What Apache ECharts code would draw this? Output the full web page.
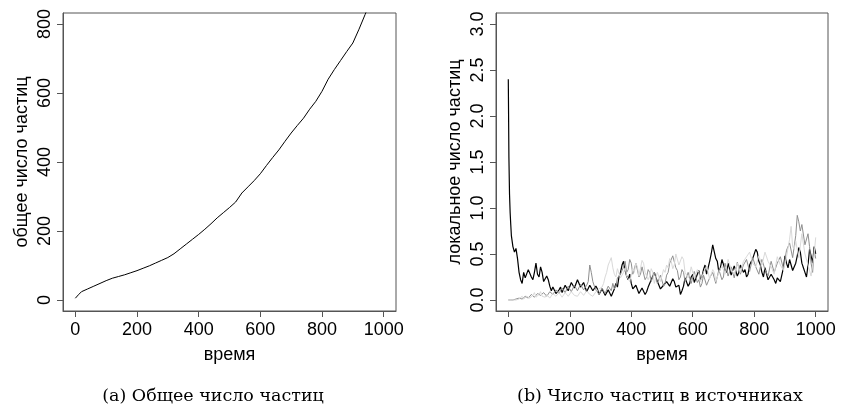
<!DOCTYPE html>
<html>
<head>
<meta charset="utf-8">
<script src="https://cdn.jsdelivr.net/npm/echarts@6/dist/echarts.min.js"></script>
<style>
    html, body { margin: 0; padding: 0; background: #fff; }
    #main { width: 841px; height: 412px; }
</style>
</head>
<body>
<div id="main"></div>
<script>
// --- data ---
const xTicks = [0, 200, 400, 600, 800, 1000];
const totalTicks = [0, 200, 400, 600, 800];
const localTicks = [0, 0.5, 1, 1.5, 2, 2.5, 3];

// (a) total number of particles
const totalTime = [0, 10, 20, 40, 60, 80, 100, 120, 140, 160, 180, 200, 220, 240, 260, 280, 300,
    320, 340, 360, 380, 400, 420, 440, 460, 480, 500, 520, 540, 560, 580, 600, 620, 640, 660,
    680, 700, 720, 740, 760, 780, 800, 820, 840, 860, 880, 900, 920, 940, 960];
const totalCount = [5, 15, 24, 32, 40, 48, 56, 63, 68, 73, 79, 85, 92, 99, 107, 115, 123,
    134, 148, 162, 176, 190, 205, 221, 238, 253, 268, 284, 310, 328, 346, 366, 390, 413, 435,
    460, 484, 506, 527, 553, 576, 605, 640, 668, 694, 720, 745, 785, 828, 872];

// (b) local number of particles in the sources
// first five samples at t = 0,2,4,6,8, then every 5 from t = 10 to 1000
const sourceBlack = [2.40, 1.55, 1.15, 0.95, 0.82,
    0.70, 0.58, 0.52, 0.56, 0.45, 0.30, 0.22, 0.18, 0.30, 0.24,
    0.26, 0.33, 0.32, 0.25, 0.22, 0.30, 0.40, 0.28, 0.25, 0.36,
    0.30, 0.20, 0.18, 0.26, 0.22, 0.15, 0.10, 0.14, 0.12, 0.07,
    0.08, 0.11, 0.14, 0.08, 0.10, 0.16, 0.18, 0.10, 0.12, 0.19,
    0.20, 0.13, 0.15, 0.22, 0.21, 0.14, 0.12, 0.19, 0.17, 0.09,
    0.10, 0.16, 0.14, 0.10, 0.08, 0.15, 0.12, 0.06, 0.07, 0.12,
    0.10, 0.05, 0.05, 0.11, 0.09, 0.04, 0.06, 0.12, 0.18, 0.14,
    0.25, 0.30, 0.38, 0.42, 0.32, 0.26, 0.22, 0.28, 0.18, 0.12,
    0.10, 0.16, 0.14, 0.07, 0.08, 0.13, 0.12, 0.06, 0.09, 0.14,
    0.14, 0.22, 0.20, 0.30, 0.28, 0.20, 0.18, 0.12, 0.10, 0.16,
    0.14, 0.20, 0.22, 0.15, 0.17, 0.23, 0.20, 0.14, 0.12, 0.16,
    0.06, 0.10, 0.15, 0.24, 0.22, 0.15, 0.18, 0.25, 0.28, 0.19,
    0.20, 0.28, 0.32, 0.22, 0.25, 0.33, 0.38, 0.28, 0.30, 0.42,
    0.50, 0.60, 0.58, 0.45, 0.42, 0.30, 0.35, 0.44, 0.45, 0.33,
    0.30, 0.40, 0.38, 0.27, 0.28, 0.37, 0.35, 0.26, 0.30, 0.38,
    0.40, 0.30, 0.33, 0.25, 0.28, 0.38, 0.36, 0.45, 0.44, 0.55,
    0.52, 0.42, 0.38, 0.30, 0.25, 0.35, 0.33, 0.22, 0.20, 0.28,
    0.30, 0.22, 0.18, 0.24, 0.26, 0.20, 0.22, 0.35, 0.48, 0.40,
    0.35, 0.44, 0.42, 0.32, 0.30, 0.40, 0.48, 0.57, 0.52, 0.40,
    0.35, 0.30, 0.25, 0.38, 0.55, 0.48, 0.40, 0.58, 0.50];

const sourceGray = [0, 0, 0, 0, 0,
    0.00, 0.00, 0.00, 0.01, 0.01, 0.02, 0.03, 0.01, 0.02, 0.04,
    0.05, 0.02, 0.03, 0.06, 0.06, 0.03, 0.04, 0.07, 0.08, 0.05,
    0.05, 0.08, 0.07, 0.04, 0.06, 0.09, 0.09, 0.06, 0.07, 0.11,
    0.10, 0.07, 0.08, 0.13, 0.12, 0.08, 0.09, 0.15, 0.14, 0.09,
    0.10, 0.16, 0.15, 0.10, 0.11, 0.17, 0.16, 0.11, 0.12, 0.16,
    0.20, 0.38, 0.30, 0.20, 0.15, 0.11, 0.10, 0.06, 0.08, 0.13,
    0.12, 0.07, 0.09, 0.15, 0.14, 0.10, 0.18, 0.12, 0.15, 0.24,
    0.22, 0.28, 0.30, 0.36, 0.42, 0.30, 0.33, 0.44, 0.40, 0.28,
    0.30, 0.40, 0.38, 0.25, 0.28, 0.36, 0.35, 0.22, 0.25, 0.33,
    0.30, 0.20, 0.22, 0.30, 0.28, 0.18, 0.20, 0.27, 0.26, 0.15,
    0.18, 0.27, 0.30, 0.40, 0.38, 0.48, 0.46, 0.35, 0.32, 0.22,
    0.25, 0.33, 0.30, 0.20, 0.22, 0.30, 0.28, 0.18, 0.20, 0.31,
    0.30, 0.19, 0.22, 0.14, 0.18, 0.27, 0.26, 0.16, 0.14, 0.24,
    0.22, 0.30, 0.28, 0.18, 0.20, 0.33, 0.32, 0.22, 0.25, 0.40,
    0.38, 0.26, 0.28, 0.36, 0.34, 0.24, 0.26, 0.41, 0.40, 0.28,
    0.30, 0.38, 0.36, 0.44, 0.42, 0.31, 0.33, 0.46, 0.45, 0.36,
    0.38, 0.28, 0.30, 0.44, 0.42, 0.33, 0.35, 0.26, 0.28, 0.42,
    0.40, 0.30, 0.32, 0.40, 0.38, 0.47, 0.45, 0.34, 0.36, 0.54,
    0.52, 0.62, 0.60, 0.46, 0.48, 0.70, 0.92, 0.85, 0.75, 0.82,
    0.80, 0.60, 0.62, 0.72, 0.58, 0.40, 0.30, 0.55, 0.45];

const sourceLight = [0, 0, 0, 0, 0,
    0.00, 0.00, 0.00, 0.00, 0.00, 0.01, 0.02, 0.04, 0.01, 0.02,
    0.04, 0.06, 0.02, 0.03, 0.05, 0.08, 0.03, 0.04, 0.06, 0.09,
    0.04, 0.02, 0.03, 0.06, 0.05, 0.02, 0.04, 0.07, 0.07, 0.04,
    0.05, 0.08, 0.06, 0.03, 0.04, 0.08, 0.07, 0.04, 0.05, 0.09,
    0.08, 0.05, 0.06, 0.04, 0.05, 0.09, 0.08, 0.05, 0.06, 0.10,
    0.09, 0.06, 0.07, 0.04, 0.05, 0.09, 0.08, 0.12, 0.10, 0.14,
    0.18, 0.25, 0.30, 0.38, 0.42, 0.46, 0.35, 0.28, 0.25, 0.34,
    0.32, 0.24, 0.22, 0.30, 0.35, 0.26, 0.28, 0.20, 0.22, 0.34,
    0.30, 0.40, 0.36, 0.26, 0.28, 0.43, 0.40, 0.30, 0.32, 0.22,
    0.26, 0.34, 0.30, 0.18, 0.20, 0.30, 0.28, 0.20, 0.22, 0.33,
    0.30, 0.38, 0.35, 0.45, 0.42, 0.34, 0.38, 0.50, 0.48, 0.38,
    0.40, 0.47, 0.44, 0.30, 0.32, 0.24, 0.28, 0.36, 0.34, 0.24,
    0.26, 0.33, 0.30, 0.20, 0.22, 0.30, 0.28, 0.37, 0.35, 0.23,
    0.25, 0.33, 0.30, 0.20, 0.22, 0.30, 0.28, 0.37, 0.35, 0.28,
    0.30, 0.44, 0.42, 0.33, 0.35, 0.28, 0.30, 0.40, 0.38, 0.30,
    0.32, 0.42, 0.40, 0.47, 0.45, 0.52, 0.50, 0.40, 0.42, 0.36,
    0.38, 0.48, 0.46, 0.38, 0.40, 0.52, 0.50, 0.42, 0.44, 0.36,
    0.38, 0.28, 0.30, 0.47, 0.45, 0.38, 0.40, 0.32, 0.34, 0.47,
    0.45, 0.66, 0.80, 0.58, 0.55, 0.64, 0.62, 0.46, 0.48, 0.72,
    0.70, 0.50, 0.52, 0.38, 0.40, 0.26, 0.25, 0.50, 0.68];

function sampleTimes(n) {
    const t = [0, 2, 4, 6, 8];
    for (let i = 5; i < n; i++) t.push(10 + (i - 5) * 5);
    return t;
}

function pairs(xs, ys) {
    return xs.map((x, i) => [x, ys[i]]);
}

const labelFont = 'Liberation Sans, Arial, sans-serif';
const captionFont = 'DejaVu Serif, serif';
const frameColor = '#555';

function makeX(gridIndex) {
    return {
        type: 'value',
        gridIndex: gridIndex,
        min: -40,
        max: 1040,
        name: 'время',
        nameLocation: 'middle',
        nameGap: 35,
        nameTextStyle: { color: '#000', fontSize: 18, fontFamily: labelFont },
        axisLine: { show: true, onZero: false, lineStyle: { color: frameColor, width: 1 } },
        splitLine: { show: false },
        axisTick: {
            show: true,
            inside: false,
            length: 6,
            customValues: xTicks,
            lineStyle: { color: frameColor, width: 1 }
        },
        axisLabel: {
            customValues: xTicks,
            margin: 10,
            color: '#000',
            fontSize: 18,
            fontFamily: labelFont,
            formatter: v => String(v)
        }
    };
}

function makeY(gridIndex, min, max, ticks, name, fmt) {
    return {
        type: 'value',
        gridIndex: gridIndex,
        min: min,
        max: max,
        name: name,
        nameLocation: 'middle',
        nameGap: 32,
        nameTextStyle: { color: '#000', fontSize: 18, fontFamily: labelFont },
        axisLine: { show: true, onZero: false, lineStyle: { color: frameColor, width: 1 } },
        splitLine: { show: false },
        axisTick: {
            show: true,
            inside: false,
            length: 6,
            customValues: ticks,
            lineStyle: { color: frameColor, width: 1 }
        },
        axisLabel: {
            customValues: ticks,
            rotate: 90,
            margin: 9,
            color: '#000',
            fontSize: 18,
            fontFamily: labelFont,
            formatter: fmt
        }
    };
}

const chart = echarts.init(document.getElementById('main'));
const option = {
    animation: false,
    backgroundColor: '#fff',
    grid: [
        { left: 63, right: 445, top: 13, bottom: 101, show: true, borderColor: frameColor, borderWidth: 1, outerBoundsMode: 'none' },
        { left: 496, right: 13, top: 13, bottom: 101, show: true, borderColor: frameColor, borderWidth: 1, outerBoundsMode: 'none' }
    ],
    xAxis: [makeX(0), makeX(1)],
    yAxis: [
        makeY(0, -32, 832, totalTicks, 'общее число частиц', v => String(v)),
        makeY(1, -0.12, 3.12, localTicks, 'локальное число частиц', v => v.toFixed(1))
    ],
    graphic: [
        {
            type: 'text', x: 213, y: 396,
            style: { text: '(a) Общее число частиц', fill: '#000', font: '17.5px ' + captionFont, textAlign: 'center', textVerticalAlign: 'middle' }
        },
        {
            type: 'text', x: 660, y: 396,
            style: { text: '(b) Число частиц в источниках', fill: '#000', font: '17.5px ' + captionFont, textAlign: 'center', textVerticalAlign: 'middle' }
        }
    ],
    series: [
        {
            type: 'line', xAxisIndex: 0, yAxisIndex: 0,
            data: pairs(totalTime, totalCount),
            showSymbol: false,
            lineStyle: { color: '#000', width: 1 }
        },
        {
            type: 'line', xAxisIndex: 1, yAxisIndex: 1,
            data: pairs(sampleTimes(sourceBlack.length), sourceBlack),
            showSymbol: false,
            lineStyle: { color: '#000', width: 1.2 }
        },
        {
            type: 'line', xAxisIndex: 1, yAxisIndex: 1,
            data: pairs(sampleTimes(sourceGray.length), sourceGray),
            showSymbol: false,
            lineStyle: { color: '#8f8f8f', width: 1 }
        },
        {
            type: 'line', xAxisIndex: 1, yAxisIndex: 1,
            data: pairs(sampleTimes(sourceLight.length), sourceLight),
            showSymbol: false,
            lineStyle: { color: '#d9d9d9', width: 1 }
        }
    ]
};
chart.setOption(option);
</script>
</body>
</html>
